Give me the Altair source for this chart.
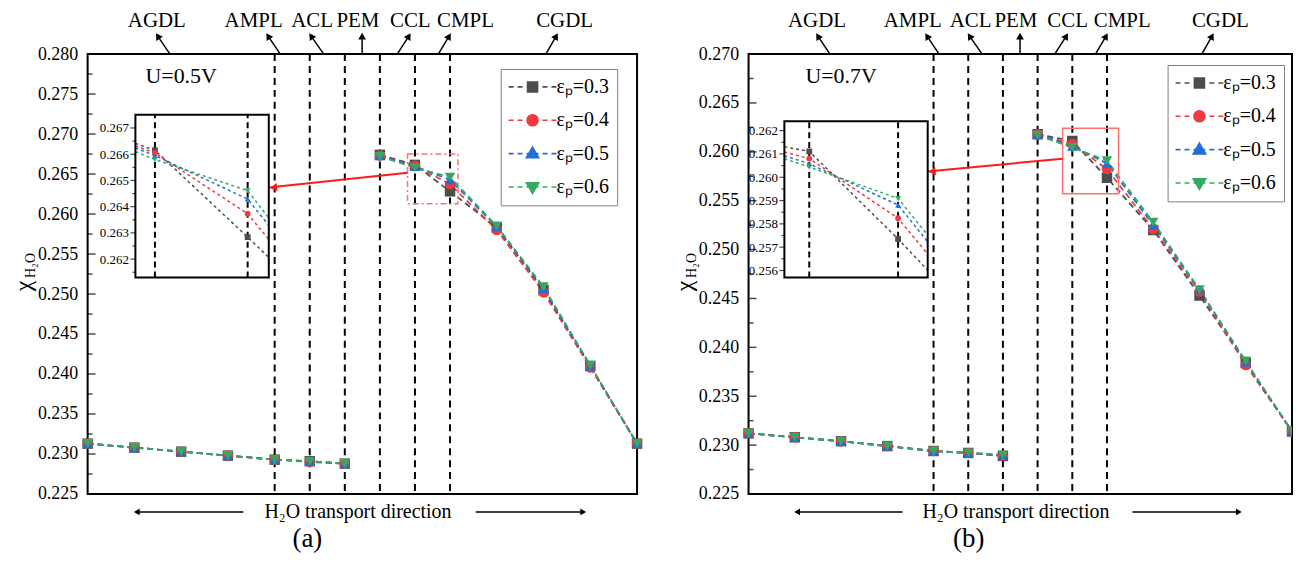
import math
import altair as alt
import pandas as pd

FONT = "Liberation Serif"

# ---------------- data ----------------
SERIES = ["εₚ=0.3", "εₚ=0.4", "εₚ=0.5", "εₚ=0.6"]
COLORS = ["#4d4d4d", "#ef3b3b", "#1f6fd9", "#35a862"]
SHAPES = ["square", "circle", "triangle-up", "triangle-down"]

# position along the MEA (arbitrary units); PEM (5.5-6.25) has no gas-phase data
X_POS = [0, 1, 2, 3, 4, 4.75, 5.5, 6.25, 7.0, 7.75, 8.75, 9.75, 10.75, 11.75]
SEGMENT = ["anode"] * 7 + ["cathode"] * 7
BOUNDARIES = [4, 4.75, 5.5, 6.25, 7.0, 7.75]

# (a) U = 0.5 V
A_EP03 = [0.2313, 0.2308, 0.2303, 0.2298, 0.2293, 0.2291, 0.2288, 0.2674, 0.26615, 0.26284, 0.2583, 0.2505, 0.2410, 0.2313]
A_EP04 = [0.2313, 0.2308, 0.2303, 0.2298, 0.2293, 0.2290, 0.2288, 0.2673, 0.26605, 0.26373, 0.2580, 0.2502, 0.2408, 0.2313]
A_EP05 = [0.2313, 0.2308, 0.2303, 0.2298, 0.2293, 0.2291, 0.2288, 0.2673, 0.26595, 0.26429, 0.2584, 0.2507, 0.2410, 0.2313]
A_EP06 = [0.2313, 0.2308, 0.2303, 0.2298, 0.2293, 0.2291, 0.2288, 0.2672, 0.26580, 0.26461, 0.2585, 0.2509, 0.2411, 0.2313]

# (b) U = 0.7 V
B_EP03 = [0.2312, 0.2308, 0.2304, 0.2299, 0.2294, 0.2292, 0.2289, 0.2618, 0.26111, 0.25735, 0.2520, 0.2453, 0.2384, 0.2314]
B_EP04 = [0.2312, 0.2308, 0.2304, 0.2299, 0.2294, 0.2292, 0.2289, 0.2618, 0.26080, 0.25824, 0.2521, 0.2457, 0.2382, 0.2314]
B_EP05 = [0.2312, 0.2308, 0.2304, 0.2299, 0.2294, 0.2292, 0.2290, 0.2618, 0.26058, 0.25881, 0.2525, 0.2459, 0.2385, 0.2314]
B_EP06 = [0.2312, 0.2308, 0.2304, 0.2299, 0.2294, 0.2292, 0.2290, 0.2617, 0.26044, 0.25909, 0.2528, 0.2459, 0.2386, 0.2314]

A_YTICKS = [0.225, 0.230, 0.235, 0.240, 0.245, 0.250, 0.255, 0.260, 0.265, 0.270, 0.275, 0.280]
A_YMINOR = [0.2275, 0.2325, 0.2375, 0.2425, 0.2475, 0.2525, 0.2575, 0.2625, 0.2675, 0.2725, 0.2775]
B_YTICKS = [0.225, 0.230, 0.235, 0.240, 0.245, 0.250, 0.255, 0.260, 0.265, 0.270]
B_YMINOR = [0.2275, 0.2325, 0.2375, 0.2425, 0.2475, 0.2525, 0.2575, 0.2625, 0.2675]

A_INSET_TICKS = [0.262, 0.263, 0.264, 0.265, 0.266, 0.267]
A_INSET_MINOR = [0.2615, 0.2625, 0.2635, 0.2645, 0.2655, 0.2665]
B_INSET_TICKS = [0.256, 0.257, 0.258, 0.259, 0.260, 0.261, 0.262]
B_INSET_MINOR = [0.2565, 0.2575, 0.2585, 0.2595, 0.2605, 0.2615]

LAYER_NAMES = ["AGDL", "AMPL", "ACL", "PEM", "CCL", "CMPL", "CGDL"]
LAYER_LABEL_X = [1.48, 3.55, 4.80, 5.78, 6.90, 8.08, 10.2]
LAYER_ARROW_BASE = [1.76, 4.12, 5.05, 5.87, 6.62, 7.50, 9.80]
LAYER_ARROW_TIP = [1.50, 3.86, 4.78, 5.87, 6.87, 7.73, 10.02]

DIRECTION_TEXT = ["H₂O transport direction"]
DIRECTION_TEXT_X = [5.78]
DIRECTION_LEFT = [1.05, 3.33]
DIRECTION_RIGHT = [8.30, 10.60]
YTITLE_MAIN = ["χ"]
YTITLE_SUB = ["H₂O"]

HEIGHT = 442
SCALE_Y = HEIGHT / 445.0   # inset pixel ranges were measured on a 445 px tall plot

PANELS = [
    dict(values=[A_EP03, A_EP04, A_EP05, A_EP06], ydomain=[0.225, 0.280], yticks=A_YTICKS, yminor=A_YMINOR,
         width=552, voltage=["U=0.5V"], tag=["(a)"], tag_x=[4.70], clip_cathode=False,
         inset_x=[6.842, 7.921], inset_y=[0.2613, 0.2675], inset_px=[48, 182], inset_py=[226, 61.5],
         inset_ticks=A_INSET_TICKS, inset_minor=A_INSET_MINOR,
         zoom_dash=[6, 3, 2, 3], arrow_from=[6.842, 0.26517], arrow_to=[3.87, 0.26331],
         legend_xy=[415, 15]),
    dict(values=[B_EP03, B_EP04, B_EP05, B_EP06], ydomain=[0.225, 0.270], yticks=B_YTICKS, yminor=B_YMINOR,
         width=546, voltage=["U=0.7V"], tag=["(b)"], tag_x=[4.76], clip_cathode=True,
         inset_x=[6.79, 8.0], inset_y=[0.2557, 0.2624], inset_px=[36, 180], inset_py=[226, 68],
         inset_ticks=B_INSET_TICKS, inset_minor=B_INSET_MINOR,
         zoom_dash=[1, 0], arrow_from=[6.79, 0.25930], arrow_to=[3.86, 0.25799],
         legend_xy=[421, 11]),
]


# ---------------- legend symbols (dashed line + solid marker) ----------------
def fmt(v):
    return f"{v:.3f}".rstrip("0").rstrip(".")


DASH = "M-4.8,0H-3.8M-3,0H-2M-1.2,0H1.2M2,0H3M3.8,0H4.8"
RINGS = [1.0, 0.72, 0.44, 0.16]


def sq_path():
    return "".join(f"M{fmt(-r)},{fmt(-r)}H{fmt(r)}V{fmt(r)}H{fmt(-r)}Z" for r in RINGS)


def circ_path():
    out = ""
    for r in [1.1, 0.8, 0.5, 0.2]:
        out += f"M{fmt(-r)},0A{fmt(r)},{fmt(r)} 0 1 0 {fmt(r)},0A{fmt(r)},{fmt(r)} 0 1 0 {fmt(-r)},0Z"
    return out


def tri_path(sign):
    verts = [(0, -1.3 * sign), (1.25, 0.85 * sign), (-1.25, 0.85 * sign)]
    cy = sum(v[1] for v in verts) / 3
    out = ""
    for k in [1.0, 0.7, 0.4, 0.12]:
        p = [(vx * k, cy + (vy - cy) * k) for vx, vy in verts]
        out += f"M{fmt(p[0][0])},{fmt(p[0][1])}L{fmt(p[1][0])},{fmt(p[1][1])}L{fmt(p[2][0])},{fmt(p[2][1])}Z"
    return out


LEGEND_PATHS = [DASH + sq_path(), DASH + circ_path(), DASH + tri_path(1), DASH + tri_path(-1)]


def make_panel(cfg):
    W, H = cfg["width"], HEIGHT
    px_per_unit = W / (X_POS[-1] - X_POS[0])
    xs = alt.Scale(domain=[X_POS[0], X_POS[-1]], nice=False, zero=False)
    ys = alt.Scale(domain=cfg["ydomain"], nice=False, zero=False)
    yaxis = alt.Axis(values=cfg["yticks"], format=".3f", title=None, ticks=False, tickSize=0,
                     domain=False, grid=False, labelFont=FONT, labelFontSize=18,
                     labelColor="black", labelPadding=10)
    X = alt.X("x:Q", scale=xs, axis=None)
    Y = alt.Y("value:Q", scale=ys, axis=yaxis)

    rows = []
    for s, vals in zip(SERIES, cfg["values"]):
        for x, seg, v in zip(X_POS, SEGMENT, vals):
            rows.append({"series": s, "x": x, "segment": seg, "value": v})
    df = pd.DataFrame(rows)

    layers = []
    # layer boundaries
    layers.append(alt.Chart(pd.DataFrame({"x": BOUNDARIES})).mark_rule(
        color="black", strokeWidth=2, strokeDash=[7, 5]).encode(x=X))
    # inward ticks on left axis
    layers.append(alt.Chart(pd.DataFrame({"x": X_POS[0], "value": cfg["yticks"]})).mark_tick(
        orient="horizontal", size=8, thickness=1.5, xOffset=4, color="black").encode(x=X, y=Y))
    layers.append(alt.Chart(pd.DataFrame({"x": X_POS[0], "value": cfg["yminor"]})).mark_tick(
        orient="horizontal", size=5, thickness=1.5, xOffset=2.5, color="black").encode(x=X, y=Y))

    # data lines and points
    for seg in ["anode", "cathode"]:
        clip = bool(cfg["clip_cathode"] and seg == "cathode")
        for s, c in zip(SERIES, COLORS):
            sub = df[(df.series == s) & (df.segment == seg)]
            layers.append(alt.Chart(sub).mark_line(color=c, strokeWidth=1.8, strokeDash=[6, 4], clip=clip)
                          .encode(x=X, y=Y, order="x:Q"))
    for seg in ["anode", "cathode"]:
        clip = bool(cfg["clip_cathode"] and seg == "cathode")
        for s, c, sh in zip(SERIES, COLORS, SHAPES):
            sub = df[(df.series == s) & (df.segment == seg)]
            layers.append(alt.Chart(sub).mark_point(shape=sh, filled=True, size=110, color=c, opacity=1, clip=clip)
                          .encode(x=X, y=Y))

    # zoom rectangle and red arrow
    x0, x1 = cfg["inset_x"]
    y0, y1 = cfg["inset_y"]
    layers.append(alt.Chart(pd.DataFrame({"x": [x0], "x2": [x1], "value": [y0], "value2": [y1]})).mark_rect(
        fillOpacity=0, stroke="#ff7070", strokeWidth=1.5, strokeDash=cfg["zoom_dash"]).encode(
        x=X, x2="x2:Q", y=Y, y2="value2:Q"))
    (ax, ay), (bx, by) = cfg["arrow_from"], cfg["arrow_to"]
    layers.append(alt.Chart(pd.DataFrame({"x": [ax], "x2": [bx], "value": [ay], "value2": [by]})).mark_rule(
        color="#ff1a1a", strokeWidth=2).encode(x=X, x2="x2:Q", y=Y, y2="value2:Q"))
    sy = (cfg["ydomain"][1] - cfg["ydomain"][0]) / H
    ang = math.degrees(math.atan2((ay - by) / sy, (ax - bx) * px_per_unit))
    layers.append(alt.Chart(pd.DataFrame({"x": [bx], "value": [by], "ang": [(360 - ang) % 360]})).mark_point(
        shape="triangle-left", filled=True, size=70, color="#ff1a1a", opacity=1, xOffset=5).encode(
        x=X, y=Y, angle=alt.Angle("ang:Q", scale=None)))

    # layer labels with arrows above the plot
    angs = []
    for b, t in zip(LAYER_ARROW_BASE, LAYER_ARROW_TIP):
        angs.append(math.degrees(math.atan2((t - b) * px_per_unit, 19)) % 360)
    lab = pd.DataFrame({"name": LAYER_NAMES, "lx": LAYER_LABEL_X, "bx": LAYER_ARROW_BASE,
                        "x": LAYER_ARROW_TIP, "ang": angs})
    layers.append(alt.Chart(lab).mark_text(font=FONT, fontSize=21, baseline="alphabetic", color="black").encode(
        x=alt.X("lx:Q", scale=xs, axis=None), y=alt.value(-27), text="name:N"))
    layers.append(alt.Chart(lab).mark_rule(color="black", strokeWidth=1.5).encode(
        x=alt.X("bx:Q", scale=xs, axis=None), x2="x:Q", y=alt.value(0), y2=alt.value(-18)))
    layers.append(alt.Chart(lab).mark_point(shape="triangle-up", filled=True, size=60, color="black", opacity=1).encode(
        x=X, y=alt.value(-18), angle=alt.Angle("ang:Q", scale=None)))

    # voltage label
    layers.append(alt.Chart(pd.DataFrame({"t": cfg["voltage"], "x": [2.0]})).mark_text(
        font=FONT, fontSize=22, color="black").encode(x=X, y=alt.value(22), text="t:N"))

    # transport direction annotation
    layers.append(alt.Chart(pd.DataFrame({"t": DIRECTION_TEXT, "x": DIRECTION_TEXT_X})).mark_text(
        font=FONT, fontSize=20, color="black").encode(x=X, y=alt.value(H + 18), text="t:N"))
    arr = pd.DataFrame({"x": [DIRECTION_LEFT[1], DIRECTION_RIGHT[0]], "x2": [DIRECTION_LEFT[0], DIRECTION_RIGHT[1]]})
    layers.append(alt.Chart(arr).mark_rule(color="black", strokeWidth=1.5).encode(
        x=X, x2="x2:Q", y=alt.value(H + 18)))
    heads = pd.DataFrame({"x": [DIRECTION_LEFT[0], DIRECTION_RIGHT[1]], "sh": ["triangle-left", "triangle-right"]})
    layers.append(alt.Chart(heads).mark_point(filled=True, size=45, color="black", opacity=1).encode(
        x=X, y=alt.value(H + 18), shape=alt.Shape("sh:N", scale=None)))

    # panel tag
    layers.append(alt.Chart(pd.DataFrame({"t": cfg["tag"], "x": cfg["tag_x"]})).mark_text(
        font=FONT, fontSize=27, color="black").encode(x=X, y=alt.value(H + 45), text="t:N"))

    # y-axis title  (chi with subscript)
    layers.append(alt.Chart(pd.DataFrame({"t": YTITLE_MAIN})).mark_text(
        font=FONT, fontSize=24, angle=270, align="center", baseline="middle", color="black").encode(
        x=alt.value(-64), y=alt.value(H / 2 + 12), text="t:N"))
    layers.append(alt.Chart(pd.DataFrame({"t": YTITLE_SUB})).mark_text(
        font=FONT, fontSize=14, angle=270, align="left", baseline="middle", color="black").encode(
        x=alt.value(-57), y=alt.value(H / 2 + 4), text="t:N"))

    # legend (native, built from the colour + shape scales)
    legend = alt.Legend(title=None, orient="none", legendX=cfg["legend_xy"][0], legendY=cfg["legend_xy"][1],
                        direction="vertical", symbolSize=100, symbolStrokeWidth=1.6, symbolOffset=14,
                        labelOffset=14, labelFont=FONT, labelFontSize=20, labelColor="black",
                        rowPadding=13.5, padding=8, strokeColor="#808080", fillColor="white", cornerRadius=0)
    layers.append(alt.Chart(pd.DataFrame({"series": SERIES})).transform_filter("false").mark_point(
        filled=False, opacity=1, strokeWidth=1.6).encode(
        color=alt.Color("series:N", scale=alt.Scale(domain=SERIES, range=COLORS), legend=legend),
        shape=alt.Shape("series:N", scale=alt.Scale(domain=SERIES, range=LEGEND_PATHS), legend=legend)))

    main = alt.layer(*layers)

    # ---------------- inset ----------------
    xi = alt.Scale(domain=[x0, x1], range=cfg["inset_px"], nice=False, zero=False)
    yi = alt.Scale(domain=[y0, y1], range=[v * SCALE_Y for v in cfg["inset_py"]], nice=False, zero=False)
    yaxis_i = alt.Axis(orient="left", offset=-cfg["inset_px"][0], values=cfg["inset_ticks"], format=".3f",
                       title=None, ticks=False, tickSize=0, domain=False, grid=False, labelFont=FONT,
                       labelFontSize=13, labelColor="black", labelPadding=7)
    XI = alt.X("x:Q", scale=xi, axis=None)
    YI = alt.Y("value:Q", scale=yi, axis=yaxis_i)
    frame = pd.DataFrame({"x": [x0], "x2": [x1], "value": [y0], "value2": [y1]})
    ins = []
    ins.append(alt.Chart(frame).mark_rect(fill="white", strokeOpacity=0).encode(
        x=XI, x2="x2:Q", y=YI, y2="value2:Q"))
    ins.append(alt.Chart(pd.DataFrame({"x": [7.0, 7.75], "value": y0, "value2": y1})).mark_rule(
        color="black", strokeWidth=2, strokeDash=[6, 4]).encode(x=XI, y=YI, y2="value2:Q"))
    cath = df[df.segment == "cathode"]
    for s, c in zip(SERIES, COLORS):
        sub = cath[cath.series == s]
        ins.append(
            alt.Chart(sub).transform_window(
                window=[alt.WindowFieldDef(**{"op": "lag", "field": "x", "as": "pvx"}),
                        alt.WindowFieldDef(**{"op": "lag", "field": "value", "as": "pvy"}),
                        alt.WindowFieldDef(**{"op": "lead", "field": "x", "as": "nx"}),
                        alt.WindowFieldDef(**{"op": "lead", "field": "value", "as": "ny"})],
                sort=[alt.SortField("x")], frame=[None, None]
            ).transform_filter(
                f"(datum.x >= {x0} && datum.x <= {x1}) || (datum.x < {x0} && datum.nx >= {x0}) || "
                f"(datum.x > {x1} && datum.pvx != null && datum.pvx <= {x1})"
            ).transform_calculate(
                xc=f"datum.x < {x0} ? {x0} : (datum.x > {x1} ? {x1} : datum.x)",
                yc=(f"datum.x < {x0} ? datum.value + (datum.ny - datum.value) * ({x0} - datum.x) / (datum.nx - datum.x) : "
                    f"(datum.x > {x1} ? datum.pvy + (datum.value - datum.pvy) * ({x1} - datum.pvx) / (datum.x - datum.pvx) : datum.value)")
            ).mark_line(color=c, strokeWidth=1.5, strokeDash=[3, 3]).encode(
                x=alt.X("xc:Q", scale=xi, axis=None), y=alt.Y("yc:Q", scale=yi, axis=yaxis_i), order="xc:Q"))
    for s, c, sh in zip(SERIES, COLORS, SHAPES):
        sub = cath[cath.series == s]
        ins.append(alt.Chart(sub).transform_filter(f"datum.x >= {x0} && datum.x <= {x1}").mark_point(
            shape=sh, filled=True, size=34, color=c, opacity=1).encode(x=XI, y=YI))
    ins.append(alt.Chart(pd.DataFrame({"x": x0, "value": cfg["inset_ticks"]})).mark_tick(
        orient="horizontal", size=5, thickness=1.2, xOffset=-2.5, color="black").encode(x=XI, y=YI))
    ins.append(alt.Chart(pd.DataFrame({"x": x0, "value": cfg["inset_minor"]})).mark_tick(
        orient="horizontal", size=3, thickness=1.2, xOffset=-1.5, color="black").encode(x=XI, y=YI))
    ins.append(alt.Chart(frame).mark_rect(fillOpacity=0, stroke="black", strokeWidth=2).encode(
        x=XI, x2="x2:Q", y=YI, y2="value2:Q"))
    inset = alt.layer(*ins)

    return alt.layer(main, inset).resolve_scale(x="independent", y="independent").properties(width=W, height=H)


panel_a = make_panel(PANELS[0])
panel_b = make_panel(PANELS[1])

chart = (
    alt.hconcat(panel_a, panel_b, spacing=112, bounds="flush")
    .resolve_scale(color="independent", shape="independent")
    .resolve_legend(color="independent", shape="independent")
    .properties(padding={"left": 3, "top": 0, "right": 0, "bottom": 0}, background="white")
    .configure(font=FONT)
    .configure_axis(labelFont=FONT)
    .configure_legend(labelFont=FONT)
    .configure_view(stroke="black", strokeWidth=2)
)

chart.save("out.html", embed_options={"renderer": "svg", "actions": False})
